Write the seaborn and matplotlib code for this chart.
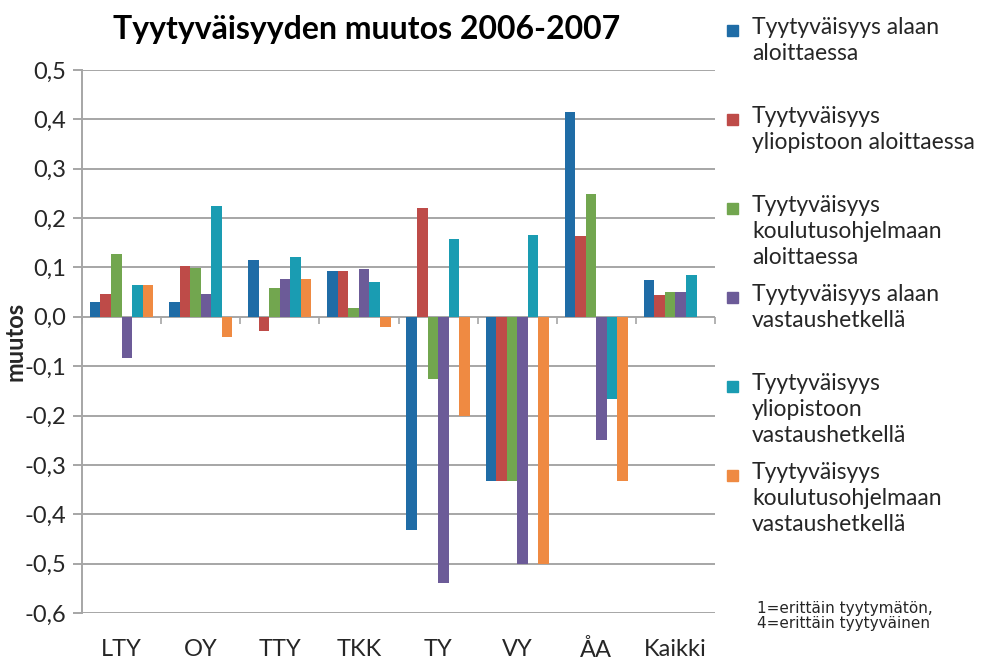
import numpy as np
import pandas as pd
import seaborn as sns
import matplotlib.pyplot as plt
from matplotlib.patches import Rectangle
from matplotlib.ticker import FuncFormatter

# Yliopistot ja sarjat
yliopistot = ["LTY", "OY", "TTY", "TKK", "TY", "VY", "ÅA", "Kaikki"]
sarjat = [
    "Tyytyväisyys alaan\naloittaessa",
    "Tyytyväisyys\nyliopistoon aloittaessa",
    "Tyytyväisyys\nkoulutusohjelmaan\naloittaessa",
    "Tyytyväisyys alaan\nvastaushetkellä",
    "Tyytyväisyys\nyliopistoon\nvastaushetkellä",
    "Tyytyväisyys\nkoulutusohjelmaan\nvastaushetkellä",
]
varit = ["#1F6CA6", "#BE4B48", "#72A64F", "#6C5B98", "#1A9CB2", "#EF8A42"]

# muutokset luettu kuvasta (sama järjestys kuin yliopistot)
alaan_alussa = [0.030, 0.030, 0.115, 0.093, -0.431, -0.333, 0.414, 0.075]
yliopistoon_alussa = [0.047, 0.103, -0.029, 0.093, 0.220, -0.333, 0.164, 0.045]
ohjelmaan_alussa = [0.128, 0.099, 0.059, 0.017, -0.126, -0.333, 0.248, 0.050]
alaan_nyt = [-0.083, 0.047, 0.077, 0.097, -0.539, -0.500, -0.250, 0.050]
yliopistoon_nyt = [0.064, 0.224, 0.121, 0.071, 0.158, 0.166, -0.166, 0.084]
ohjelmaan_nyt = [0.064, -0.040, 0.077, -0.021, -0.200, -0.500, -0.333, np.nan]

arvot = [alaan_alussa, yliopistoon_alussa, ohjelmaan_alussa,
         alaan_nyt, yliopistoon_nyt, ohjelmaan_nyt]

rivit = []
for sarja, lista in zip(sarjat, arvot):
    for yo, v in zip(yliopistot, lista):
        rivit.append({"yliopisto": yo, "sarja": sarja, "muutos": v})
df = pd.DataFrame(rivit).dropna()

sns.set_style("white")
plt.rcParams["font.family"] = ["Lato", "DejaVu Sans"]

harmaa = "#a6a6a6"
teksti = "#262626"

fig = plt.figure(figsize=(9.89, 6.65), dpi=100)
ax = fig.add_axes([82 / 989, 1 - 613 / 665, (715 - 82) / 989, (613 - 70) / 665])

sns.barplot(data=df, x="yliopisto", y="muutos", hue="sarja", order=yliopistot,
            hue_order=sarjat, palette=varit, width=0.8, saturation=1,
            errorbar=None, linewidth=0, legend=False, ax=ax)

ax.set_xlim(-0.5, len(yliopistot) - 0.5)
ax.set_ylim(-0.6, 0.5)
ax.set_yticks(np.arange(-6, 6) / 10)
ax.yaxis.set_major_formatter(FuncFormatter(lambda v, p: f"{round(v, 1) + 0:.1f}".replace(".", ",")))
ax.yaxis.grid(True, color=harmaa, lw=1.4)
ax.set_axisbelow(True)
for s in ["top", "right", "bottom"]:
    ax.spines[s].set_visible(False)
ax.spines["left"].set_color(harmaa)
ax.spines["left"].set_linewidth(1.4)
ax.tick_params(axis="y", length=6.5, width=1.4, color=harmaa, pad=5,
               labelsize=17, labelcolor=teksti, left=True)
ax.tick_params(axis="x", length=0, pad=19, labelsize=17, labelcolor=teksti)
ax.set_xlabel("")
ax.set_ylabel("muutos", fontsize=17, fontweight="bold", color=teksti)
ax.yaxis.set_label_coords(-0.087, 0.5)

# väliviivat nollatasolla
nolla = (0 - (-0.6)) / 1.1
sec = ax.secondary_xaxis(nolla)
sec.set_xticks(np.arange(-0.5, len(yliopistot), 1))
sec.xaxis.set_ticks_position("bottom")
sec.tick_params(axis="x", length=5, width=1.2, color=harmaa, direction="out",
                labelbottom=False, labeltop=False)
for s in sec.spines.values():
    s.set_visible(False)

fig.suptitle("Tyytyväisyyden muutos 2006-2007", x=367 / 989, y=1 - 30 / 665,
             va="center", fontsize=23, fontweight="bold", color="black")

# selite oikealla
for i, (lab, col) in enumerate(zip(sarjat, varit)):
    y0 = 30 + i * 89
    fig.add_artist(Rectangle((727 / 989, 1 - (y0 + 5.5) / 665), 11 / 989, 11 / 665,
                             color=col, transform=fig.transFigure))
    fig.text(752 / 989, 1 - (y0 - 13) / 665, lab, va="top", ha="left",
             fontsize=16.5, color=teksti, linespacing=1.3)

fig.text(757 / 989, 1 - 616 / 665, "1=erittäin tyytymätön,\n4=erittäin tyytyväinen",
         va="center", ha="left", fontsize=11, color=teksti,
         family=["DejaVu Sans"], linespacing=1.0)

fig.savefig("out.png", dpi=100)
